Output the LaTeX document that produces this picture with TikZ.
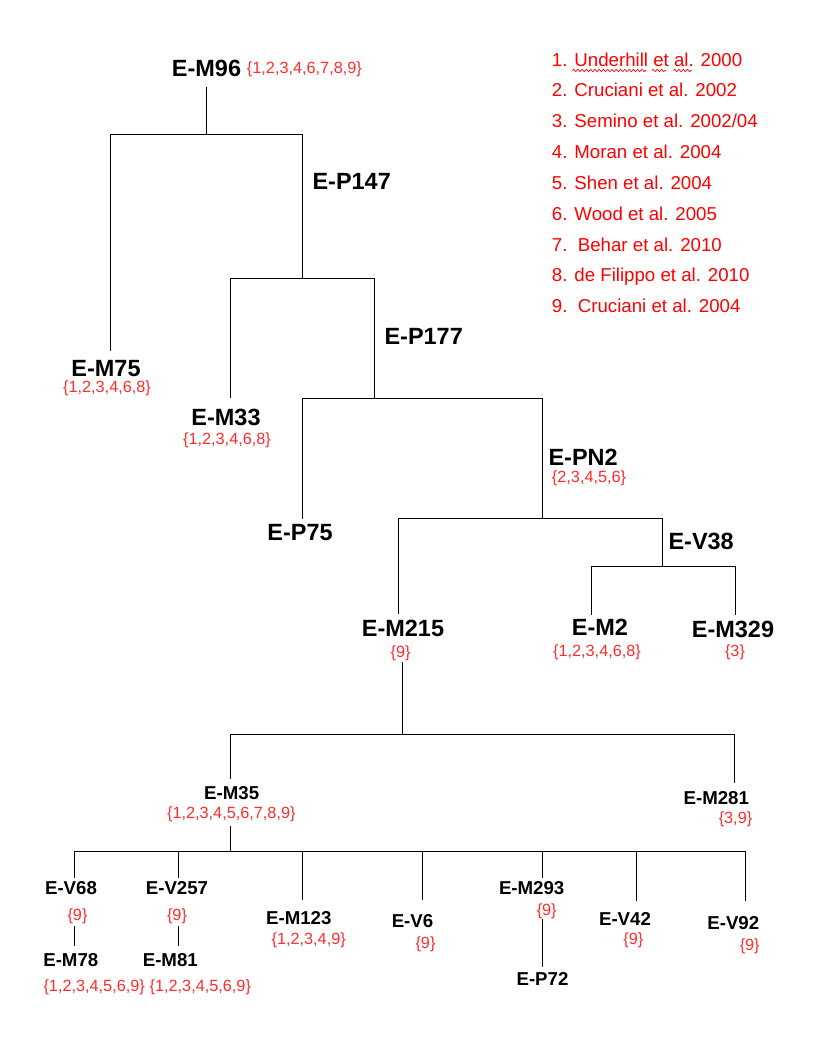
\documentclass[tikz,border=0pt]{standalone}
\usepackage{fontspec}
\setmainfont{Liberation Sans}
\usetikzlibrary{decorations.pathmorphing}
\definecolor{refred}{RGB}{255,45,45}
\definecolor{legred}{RGB}{255,0,0}
\begin{document}
\begin{tikzpicture}[x=0.75pt,y=-0.75pt,
  big/.style={font=\bfseries\fontsize{17.6}{20}\selectfont, inner sep=0pt, anchor=base, outer ysep=4pt},
  small/.style={font=\bfseries\fontsize{14}{16}\selectfont, inner sep=0pt, anchor=base, outer ysep=4pt},
  refs/.style={text=refred, font=\fontsize{12.2}{14}\selectfont, inner sep=0pt, anchor=base, outer ysep=1pt},
  leg/.style={text=legred, font=\fontsize{14}{16}\selectfont, inner sep=0pt, anchor=base west},
  conn/.style={draw=black, line width=0.9pt},
  wavy/.style={draw=legred, line width=0.5pt, decorate, decoration={snake, amplitude=0.9pt, segment length=3.2pt}}]
\useasboundingbox[fill=white] (0,0) rectangle (816,1056);

% ---- labels ----
\node[big, outer ysep=7.5pt] (m96) at (206.5,76.7) {E-M96};
\node[refs, anchor=base west] (m96r) at (246.7,73.3) {\{1,2,3,4,6,7,8,9\}};
\node[big, anchor=base west] (p147) at (312.3,189) {E-P147};
\node[big, outer ysep=7.5pt] (m75) at (106,376.7) {E-M75};
\node[refs] (m75r) at (107,392.7) {\{1,2,3,4,6,8\}};
\node[big, outer ysep=8pt] (m33) at (226,425) {E-M33};
\node[refs] (m33r) at (227,444) {\{1,2,3,4,6,8\}};
\node[big, anchor=base west] (p177) at (384.3,344) {E-P177};
\node[big] (p75) at (300,540.5) {E-P75};
\node[big, anchor=base west] (pn2) at (548.3,465) {E-PN2};
\node[refs, anchor=base west] (pn2r) at (551.7,482.5) {\{2,3,4,5,6\}};
\node[big, anchor=base west] (v38) at (668.3,549.3) {E-V38};
\node[big, outer ysep=4.5pt] (m215) at (403,636.7) {E-M215};
\node[refs, outer ysep=0.75pt] (m215r) at (400.7,657.5) {\{9\}};
\node[big, outer ysep=3pt] (m2) at (600,635) {E-M2};
\node[refs] (m2r) at (597,656) {\{1,2,3,4,6,8\}};
\node[big, outer ysep=4.3pt] (m329) at (733,637) {E-M329};
\node[refs] (m329r) at (735,656.5) {\{3\}};
\node[small, outer ysep=5.5pt] (m35) at (231.7,799.3) {E-M35};
\node[refs, outer ysep=3.75pt] (m35r) at (231.3,818) {\{1,2,3,4,5,6,7,8,9\}};
\node[small, outer ysep=6pt] (m281) at (716.3,804.3) {E-M281};
\node[refs] (m281r) at (735.5,823.5) {\{3,9\}};
\node[small, outer ysep=2pt] (v68) at (71,894) {E-V68};
\node[refs, outer ysep=1.5pt] (v68r) at (77.5,920.5) {\{9\}};
\node[small, outer ysep=6pt] (m78) at (70.8,966) {E-M78};
\node[refs] (m78r) at (94.2,991) {\{1,2,3,4,5,6,9\}};
\node[small, outer ysep=2pt] (v257) at (177,894) {E-V257};
\node[refs, outer ysep=1.5pt] (v257r) at (177,920.5) {\{9\}};
\node[small, outer ysep=6pt] (m81) at (170.3,966) {E-M81};
\node[refs] (m81r) at (200.3,991) {\{1,2,3,4,5,6,9\}};
\node[small, outer ysep=8.25pt] (m123) at (298.8,924.3) {E-M123};
\node[refs] (m123r) at (308.7,944) {\{1,2,3,4,9\}};
\node[small, outer ysep=10.5pt] (v6) at (412.5,927.3) {E-V6};
\node[refs] (v6r) at (425.5,948) {\{9\}};
\node[small, outer ysep=2pt] (m293) at (531.7,894) {E-M293};
\node[refs, outer ysep=0.75pt] (m293r) at (546.7,915) {\{9\}};
\node[small, outer ysep=4.3pt] (p72) at (542.5,985) {E-P72};
\node[small, outer ysep=8.25pt] (v42) at (625,925) {E-V42};
\node[refs] (v42r) at (633.3,944) {\{9\}};
\node[small, outer ysep=11.25pt] (v92) at (733.3,929.3) {E-V92};
\node[refs] (v92r) at (749.7,950.5) {\{9\}};

% ---- branch points ----
\coordinate (b1) at (206.5,134.5);
\coordinate (b2) at (302.5,278.5);
\coordinate (b3) at (374.5,398.5);
\coordinate (b4) at (542.5,518.5);
\coordinate (b5) at (662.5,566.5);
\coordinate (b6) at (402.5,734.5);
\coordinate (b7) at (230.5,851.5);

% ---- connectors ----
\draw[conn] (m96.south) -- (m96.south |- b1);
\draw[conn] ([xshift=3.3pt]m75.north) |- (b1) -| (b2);
\draw[conn] ([xshift=3.4pt]m33.north) |- (b2) -| (b3);
\draw[conn] ([xshift=1.9pt]p75.north) |- (b3) -| (b4);
\draw[conn] ([xshift=-3.4pt]m215.north) |- (b4) -| (b5);
\draw[conn] ([xshift=-6.1pt]m2.north) |- (b5) -| ([xshift=1.875pt]m329.north);
\draw[conn] ([xshift=1.35pt]m215r.south) |- (b6);
\draw[conn] ([xshift=-0.9pt]m35.north) |- (b6) -| ([xshift=13.9pt]m281.north);
\draw[conn] ([xshift=-0.6pt]m35r.south) |- (b7);
\draw[conn] ([xshift=2.6pt]v68.north) |- (b7) -| ([xshift=9pt]v92.north);
\draw[conn] ([xshift=1pt]v257.north) |- (b7);
\draw[conn] ([xshift=2.6pt]m123.north) |- (b7);
\draw[conn] ([xshift=7.3pt]v6.north) |- (b7);
\draw[conn] ([xshift=8.3pt]m293.north) |- (b7);
\draw[conn] ([xshift=8.5pt]v42.north) |- (b7);
\draw[conn] ([xshift=-2.3pt]v68r.south) |- ([xshift=2.7pt]m78.north);
\draw[conn] ([xshift=1pt]v257r.south) |- ([xshift=6pt]m81.north);
\draw[conn] ([xshift=-3pt]m293r.south) |- (p72.north);

% ---- legend ----
\node[leg] (l1) at (551.7,66.7) {1. Underhill et al. 2000};
\node[leg] (l2) at (551.7,96.7) {2. Cruciani et al. 2002};
\node[leg] (l3) at (551.7,127.3) {3. Semino et al. 2002/04};
\node[leg] (l4) at (551.7,158.3) {4. Moran et al. 2004};
\node[leg] (l5) at (551.7,189.3) {5. Shen et al. 2004};
\node[leg] (l6) at (551.7,220) {6. Wood et al. 2005};
\node[leg] (l7) at (551.7,251) {7.~~Behar et al. 2010};
\node[leg] (l8) at (551.7,281.7) {8. de Filippo et al. 2010};
\node[leg] (l9) at (551.7,312) {9.~~Cruciani et al. 2004};
\draw[wavy] (572.3,70.5) -- (646,70.5);
\draw[wavy] (651.7,70.5) -- (666,70.5);
\draw[wavy] (673.3,70.5) -- (691.7,70.5);
\end{tikzpicture}
\end{document}
